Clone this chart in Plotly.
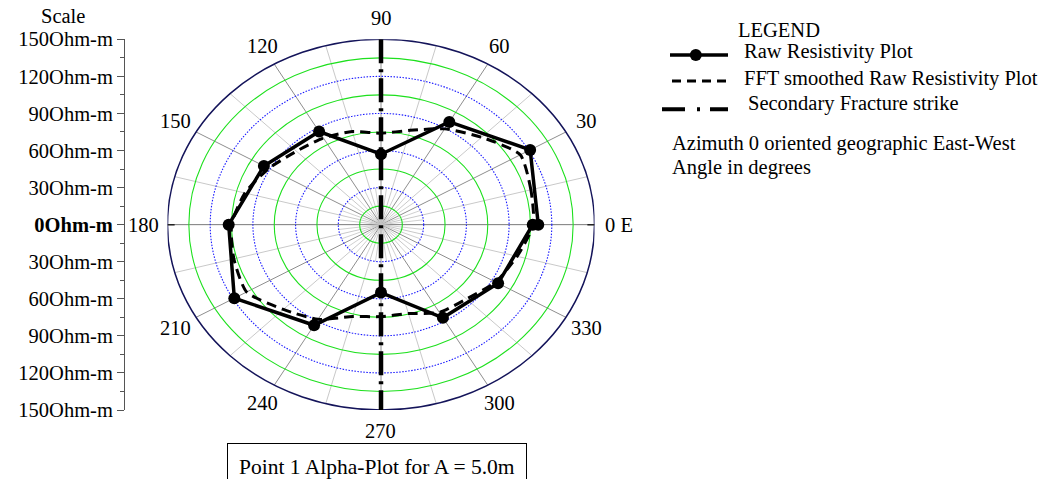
import numpy as np
import plotly.graph_objects as go

# ---------------- data ----------------
raw_angle = [0, 30, 60, 90, 120, 150, 180, 210, 240, 270, 300, 330, 360]
raw_res = [110.5, 121, 96, 57, 87, 95, 107, 119, 94, 55, 87, 95, 106.6]

fft_angle = [0, 15, 30, 45, 60, 75, 90, 105, 120, 135, 150, 165, 180,
             195, 210, 225, 240, 255, 270, 285, 300, 315, 330, 345, 360]
fft_res = [107, 109, 113, 100, 89.5, 79, 74, 78, 81, 84, 91, 99, 105,
           107, 109, 97, 88.5, 77, 74.4, 74.5, 82, 85, 93, 99, 107]

strike_angle = [90, 270]
strike_r = [150, 150]

ring_values = [15, 30, 45, 60, 75, 90, 105, 120, 135, 150]
angle_ticks = [0, 30, 60, 90, 120, 150, 180, 210, 240, 270, 300, 330]
angle_labels = ["0 E", "30", "60", "90", "120", "150", "180", "210", "240", "270", "300", "330"]

scale_vals = [-150, -120, -90, -60, -30, 0, 30, 60, 90, 120, 150]
scale_text = ["150Ohm-m", "120Ohm-m", "90Ohm-m", "60Ohm-m", "30Ohm-m", "<b>0Ohm-m</b>",
              "30Ohm-m", "60Ohm-m", "90Ohm-m", "120Ohm-m", "150Ohm-m"]

legend_title = "LEGEND"
legend_items = ["Raw Resistivity Plot", "FFT smoothed Raw Resistivity Plot", "Secondary Fracture strike"]
notes = ["Azimuth 0 oriented geographic East-West", "Angle in degrees"]
plot_title = "Point 1 Alpha-Plot for A = 5.0m"

# ---------------- geometry / style ----------------
W, H = 1061, 479
CX, CY, RX, RY = 381.0, 224.65, 213.5, 185.35
RMAX = 150.0
LABEL_R = 167
FONT = "Liberation Serif"
FS = 20.5


def px(x):
    return x / W


def py(y):
    return 1 - y / H


def to_xy(angles, radii):
    a = np.deg2rad(np.asarray(angles, dtype=float))
    r = np.asarray(radii, dtype=float)
    return r * np.cos(a), r * np.sin(a)


fig = go.Figure()

# data traces
sx, sy = to_xy(strike_angle, strike_r)
fig.add_trace(go.Scatter(x=sx, y=sy, mode="lines", name=legend_items[2],
                         line=dict(color="black", width=4.5, dash="24px,6px,3px,6px"),
                         hoverinfo="skip"))
fx, fy = to_xy(fft_angle, fft_res)
fig.add_trace(go.Scatter(x=fx, y=fy, mode="lines", name=legend_items[1],
                         line=dict(color="black", width=3, dash="10px,6px", shape="spline", smoothing=0.6)))
rx_, ry_ = to_xy(raw_angle, raw_res)
fig.add_trace(go.Scatter(x=rx_, y=ry_, mode="lines+markers", name=legend_items[0],
                         line=dict(color="black", width=3.5),
                         marker=dict(color="black", size=12)))

annotations = []
# angular tick labels, placed just outside the outer ring (same axis scaling)
lx, ly = to_xy(angle_ticks, [LABEL_R] * len(angle_ticks))
for t, xx, yy in zip(angle_labels, lx, ly):
    annotations.append(dict(text=t, x=px(CX + xx * RX / RMAX), y=py(CY - yy * RY / RMAX),
                            xref="paper", yref="paper",
                            xanchor="center", yanchor="middle", showarrow=False,
                            font=dict(family=FONT, size=FS, color="black")))

shapes = []
# spokes
for k in range(24):
    ang = k * 15
    ex, ey = to_xy([ang], [RMAX])
    if ang % 180 == 0:
        col = "#7a7a7a"
    elif ang % 30 == 0:
        col = "#8e8e8e"
    else:
        col = "#c9c9c9"
    shapes.append(dict(type="line", xref="x", yref="y", x0=0, y0=0, x1=ex[0], y1=ey[0],
                       line=dict(color=col, width=1), layer="below"))
for k in range(24):
    ang = 7.5 + k * 15
    ex, ey = to_xy([ang], [30])
    shapes.append(dict(type="line", xref="x", yref="y", x0=0, y0=0, x1=ex[0], y1=ey[0],
                       line=dict(color="#c4c4c4", width=0.8), layer="below"))
# rings
for rv in ring_values:
    if rv == RMAX:
        ln = dict(color="#14145a", width=1.5)
    elif (rv // 15) % 2 == 1:
        ln = dict(color="#1ee01e", width=1.1)
    else:
        ln = dict(color="#1a1aff", width=1.1, dash="1.5px,1.5px")
    shapes.append(dict(type="circle", xref="x", yref="y", x0=-rv, y0=-rv, x1=rv, y1=rv,
                       line=ln, layer="below"))
# small ticks at 0 / 180 on outer ring
for ang in (0, 180):
    ax0, ay0 = to_xy([ang], [RMAX - 5])
    ax1, ay1 = to_xy([ang], [RMAX])
    shapes.append(dict(type="line", xref="x", yref="y", x0=ax0[0], y0=ay0[0], x1=ax1[0], y1=ay1[0],
                       line=dict(color="#222", width=1.5), layer="below"))

# custom legend samples
shapes.append(dict(type="line", xref="paper", yref="paper", x0=px(670), x1=px(728), y0=py(55), y1=py(55),
                   line=dict(color="black", width=3.5)))
shapes.append(dict(type="circle", xref="paper", yref="paper", x0=px(689.8), x1=px(701.8),
                   y0=py(61), y1=py(49), fillcolor="black", line=dict(color="black", width=0)))
shapes.append(dict(type="line", xref="paper", yref="paper", x0=px(672), x1=px(728), y0=py(81), y1=py(81),
                   line=dict(color="black", width=3, dash="9px,6px")))
shapes.append(dict(type="line", xref="paper", yref="paper", x0=px(662), x1=px(728), y0=py(109.3), y1=py(109.3),
                   line=dict(color="black", width=4, dash="23px,12px,3px,10px")))


def txt(t, x, y, xa="left", ya="middle", size=FS, **kw):
    annotations.append(dict(text=t, x=px(x), y=py(y), xref="paper", yref="paper",
                            xanchor=xa, yanchor=ya, showarrow=False,
                            font=dict(family=FONT, size=size, color="black"), **kw))


txt("Scale", 62.5, 16, xa="center")
txt(legend_title, 779, 30, xa="center")
txt(legend_items[0], 742, 51.5)
txt(legend_items[1], 742, 78)
txt(legend_items[2], 746, 103.5)
txt(notes[0], 670, 143)
txt(notes[1], 670, 167)
txt(plot_title, 376.5, 443.3, xa="center", ya="top", size=21.5,
    bordercolor="black", borderwidth=1, borderpad=11)

fig.update_layout(
    width=W, height=H, autosize=False,
    margin=dict(l=0, r=0, t=0, b=0, pad=0, autoexpand=False),
    paper_bgcolor="white", plot_bgcolor="white",
    showlegend=False,
    shapes=shapes, annotations=annotations,
    font=dict(family=FONT, size=FS, color="black"),
    xaxis=dict(domain=[px(CX - RX), px(CX + RX)], range=[-RMAX, RMAX], visible=False, automargin=False),
    yaxis=dict(domain=[py(CY + RY), py(CY - RY)], range=[-RMAX, RMAX], automargin=False,
               anchor="free", position=px(124), side="left",
               showgrid=False, zeroline=False, showline=True, linecolor="#555", linewidth=1,
               ticks="outside", ticklen=7, tickcolor="#555", tickwidth=1,
               tickmode="array", tickvals=scale_vals, ticktext=scale_text,
               tickfont=dict(family=FONT, size=FS, color="black"),
               minor=dict(tick0=0, dtick=15, ticks="outside", ticklen=4, tickcolor="#555", showgrid=False)),
)

fig.write_html("out.html", config={"displayModeBar": False},
               post_script="document.body.style.margin='0px';")
